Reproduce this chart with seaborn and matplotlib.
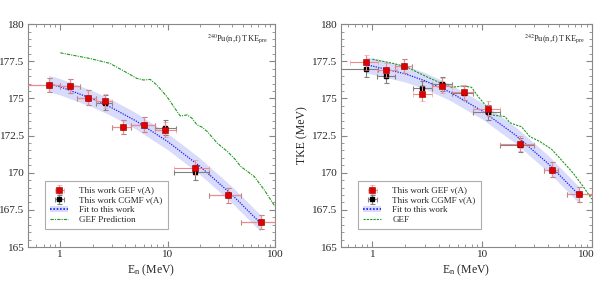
import numpy as np
import pandas as pd
import seaborn as sns
import matplotlib
matplotlib.use("Agg")
import matplotlib.pyplot as plt
import matplotlib.transforms as mtransforms
from matplotlib.ticker import AutoMinorLocator, FixedLocator, FuncFormatter, LogLocator
from matplotlib.patches import Patch
from matplotlib.lines import Line2D

# ---- 240Pu(n,f) ----
pu240_e = [0.78, 1.23, 1.82, 2.59, 3.81, 5.96, 9.5, 17.8, 36.3, 73.4]
pu240_e_lo = [0.45, 1.0, 1.44, 2.17, 3.0, 4.6, 7.6, 11.5, 24.2, 48.0]
pu240_e_hi = [1.0, 1.52, 2.17, 3.0, 4.6, 7.6, 12.0, 24.2, 48.6, 100.0]
pu240_gef = [175.9, 175.84, 175.05, 174.83, 173.08, 173.22, 172.88, 170.35, 168.49, 166.68]
pu240_cgmf = [175.9, 175.84, 175.05, 174.72, 173.08, 173.22, 173.04, 170.02, 168.49, 166.68]
pu240_yerr = [0.5, 0.5, 0.5, 0.5, 0.5, 0.5, 0.5, 0.5, 0.5, 0.5]

pu240_fit_e = [0.78, 1, 2, 3, 5, 10, 20, 40, 73]
pu240_fit = [176.0, 175.78, 174.97, 174.38, 173.51, 172.1, 170.43, 168.5, 166.62]
pu240_band = [0.55, 0.55, 0.55, 0.55, 0.55, 0.55, 0.55, 0.55, 0.55]

pu240_pred_e = [1.0, 1.88, 2.9, 4.01, 5.16, 5.96, 6.88, 7.94, 9.86, 11.4, 13.1, 15.2,
                16.9, 18.8, 21.0, 23.4, 29.0, 36.0, 41.6, 48.0, 64.0, 79.4, 100.0]
pu240_pred = [178.07, 177.69, 177.36, 176.8, 176.35, 176.24, 176.28, 175.9, 175.12, 174.45,
              173.82, 173.89, 173.66, 173.22, 173.06, 172.77, 171.99, 171.43, 170.98,
              170.42, 169.75, 168.85, 167.73]

# ---- 242Pu(n,f) ----
pu242_e = [0.87, 1.34, 1.94, 2.84, 4.26, 6.8, 11.3, 22.0, 42.9, 76.6]
pu242_e_lo = [0.62, 1.11, 1.6, 2.35, 3.5, 5.3, 8.3, 14.5, 37.0, 59.0]
pu242_e_hi = [1.13, 1.66, 2.3, 3.5, 5.3, 8.3, 14.5, 30.0, 49.0, 100.0]
pu242_gef = [177.43, 176.91, 177.18, 175.32, 175.86, 175.41, 174.31, 171.94, 170.19, 168.56]
pu242_cgmf_e_lo = [0.51, 1.11, 1.6, 2.35, 3.5, 5.3, 8.3, 14.5, 37.0, 59.0]
pu242_cgmf_e_hi = [1.13, 1.6, 2.3, 3.5, 5.3, 8.3, 14.5, 30.0, 49.0, 100.0]
pu242_cgmf = [176.96, 176.51, 177.18, 175.68, 175.97, 175.37, 174.07, 171.87, 170.19, 168.56]
pu242_yerr = [0.5, 0.5, 0.5, 0.5, 0.5, 0.5, 0.5, 0.5, 0.5, 0.5]

pu242_fit_e = [0.87, 1, 2, 3, 5, 10, 20, 40, 77]
pu242_fit = [177.25, 177.18, 176.65, 176.19, 175.45, 174.16, 172.55, 170.61, 168.48]
pu242_band = [0.55, 0.55, 0.55, 0.55, 0.55, 0.55, 0.55, 0.55, 0.55]

pu242_pred_e = [1.0, 1.54, 2.04, 2.9, 4.11, 5.25, 6.7, 8.0, 9.2, 11.0, 12.2, 14.5, 16.1,
                17.9, 20.6, 22.8, 27.2, 33.6, 42.9, 51.0, 67.6, 83.4, 100.0]
pu242_pred = [177.63, 177.36, 177.13, 176.57, 176.06, 175.75, 175.84, 175.75, 175.12,
              174.45, 173.89, 173.82, 173.78, 173.37, 173.2, 173.1, 172.43, 172.1,
              171.58, 170.98, 169.97, 169.07, 168.22]

sns.set_style("ticks")
plt.rcParams['font.family'] = ['Liberation Serif', 'DejaVu Serif']
plt.rcParams['mathtext.fontset'] = 'stix'

fig = plt.figure(figsize=(5.98, 2.85), dpi=100)
ax1 = fig.add_axes([0.0468, 0.1333, 0.413, 0.782])
ax2 = fig.add_axes([0.570, 0.1333, 0.4197, 0.782])

red = '#e00000'
red_err = '#f08a8a'
blk_err = '#808080'
blue = '#1a1aff'
band_col = '#d8dcfa'
green = '#1f9a1f'


def draw(ax, e, elo, ehi, gef, cgmf, yerr, celo, cehi, fit_e, fit, band,
         pred_e, pred, pred_ls, pred_label, title, xmin):
    e = np.array(e)
    fit_df = pd.DataFrame({'E': fit_e, 'TKE': fit})
    lo = np.array(fit) - np.array(band)
    hi = np.array(fit) + np.array(band)
    ax.fill_between(fit_e, lo, hi, color=band_col, lw=0, zorder=1)
    sns.lineplot(data=fit_df, x='E', y='TKE', ax=ax, color=blue, lw=0.9,
                 linestyle=(0, (1, 1)), zorder=3)
    pred_df = pd.DataFrame({'E': pred_e, 'TKE': pred})
    sns.lineplot(data=pred_df, x='E', y='TKE', ax=ax, color=green, lw=0.8,
                 linestyle=pred_ls, zorder=2)
    hc = ax.errorbar(e, cgmf, yerr=yerr,
                     xerr=[e - np.array(celo), np.array(cehi) - e],
                     fmt='s', ms=3.5, color='black', ecolor=blk_err, elinewidth=0.8,
                     capsize=1.8, capthick=0.8, zorder=4)
    hg = ax.errorbar(e, gef, yerr=yerr,
                     xerr=[e - np.array(elo), np.array(ehi) - e],
                     fmt='s', ms=3.8, color=red, mec='#900000', mew=0.4, ecolor=red_err,
                     elinewidth=0.8, capsize=1.8, capthick=0.8, zorder=5)
    ax.set_xscale('log')
    ax.set_xlim(xmin, 100)
    ax.set_ylim(165, 180)
    ax.yaxis.set_major_locator(FixedLocator([165, 167.5, 170, 172.5, 175, 177.5, 180]))
    ax.yaxis.set_minor_locator(AutoMinorLocator(5))
    ax.yaxis.set_major_formatter(FuncFormatter(lambda v, p: '%g' % v))
    ax.xaxis.set_major_locator(LogLocator(base=10, numticks=10))
    ax.xaxis.set_minor_locator(LogLocator(base=10, subs=np.arange(2, 10), numticks=20))
    ax.xaxis.set_major_formatter(FuncFormatter(lambda v, p: '%g' % v))
    ax.tick_params(which='both', direction='in', top=True, right=True, labelsize=8,
                   color='#888888', pad=2.5)
    ax.tick_params(which='major', length=4)
    ax.tick_params(which='minor', length=2)
    for s in ax.spines.values():
        s.set_color('#888888')
        s.set_linewidth(0.8)
    ax.set_xlabel(r'E$_\mathregular{n}$ (MeV)', fontsize=8.5, labelpad=2)
    ax.set_ylabel('')
    ax.text(0.97, 0.93, title, transform=ax.transAxes, ha='right', va='center', fontsize=6)
    fit_h = (Patch(facecolor=band_col, edgecolor='none'),
             Line2D([], [], color=blue, lw=1.2, linestyle=(0, (1, 1))))
    pred_h = Line2D([], [], color=green, lw=0.8, linestyle=pred_ls)
    leg = ax.legend([hg, hc, fit_h, pred_h],
                    ['This work GEF ν(A)', 'This work CGMF ν(A)', 'Fit to this work', pred_label],
                    loc='lower left', bbox_to_anchor=(0.05, 0.06), fontsize=6.5, frameon=True,
                    fancybox=False, edgecolor='#999999', borderpad=0.6, labelspacing=0.15,
                    handlelength=2.0, handletextpad=1.2)
    leg.get_frame().set_linewidth(0.8)
    return ax


draw(ax1, pu240_e, pu240_e_lo, pu240_e_hi, pu240_gef, pu240_cgmf, pu240_yerr,
     pu240_e_lo, pu240_e_hi, pu240_fit_e, pu240_fit, pu240_band,
     pu240_pred_e, pu240_pred, (0, (3, 1, 1, 1)), 'GEF Prediction',
     r'$^{240}$Pu(n,f) TKE$_{\mathregular{pre}}$', 0.5)
draw(ax2, pu242_e, pu242_e_lo, pu242_e_hi, pu242_gef, pu242_cgmf, pu242_yerr,
     pu242_cgmf_e_lo, pu242_cgmf_e_hi, pu242_fit_e, pu242_fit, pu242_band,
     pu242_pred_e, pu242_pred, (0, (2, 1)), 'GEF',
     r'$^{242}$Pu(n,f) TKE$_{\mathregular{pre}}$', 0.515)
ax2.set_ylabel('TKE (MeV)', fontsize=8.5, labelpad=3)

# nudge the right-most "100" label inward so it stays inside the figure
fig.canvas.draw()
shift = mtransforms.ScaledTranslation(-6 / 100, 0, fig.dpi_scale_trans)
for lab in ax2.get_xticklabels():
    if lab.get_text() == '100':
        lab.set_transform(lab.get_transform() + shift)

fig.savefig('out.png', dpi=100)
